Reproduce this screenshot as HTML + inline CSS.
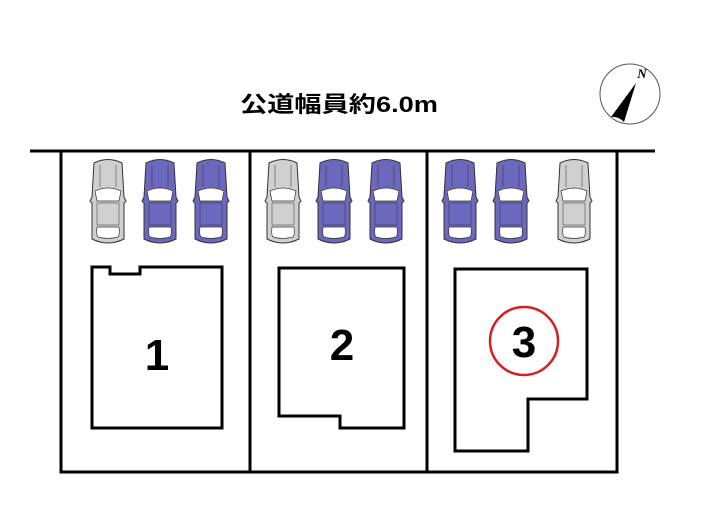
<!DOCTYPE html>
<html><head><meta charset="utf-8"><style>
html,body{margin:0;padding:0;background:#fff;width:705px;height:525px;overflow:hidden}
</style></head><body>
<svg width="705" height="525" viewBox="0 0 705 525" xmlns="http://www.w3.org/2000/svg">
<defs>
<g id="car">
  <path d="M6,6 Q20,-1 34,6 L36,40 L38,44 L36,46 L36,82 Q20,90 4,82 L4,46 L2,44 L4,40 Z" stroke="#333" stroke-width="1"/>
  <path d="M7,34 Q20,28 33,34 L31,44 L9,44 Z" fill="#fff" stroke="#333" stroke-width="0.7"/>
  <path d="M9,70 L31,70 Q32,78 30,80 Q20,83 10,80 Q8,78 9,70 Z" fill="#fff" stroke="#333" stroke-width="0.7"/>
  <path d="M9,46 L31,46 L31,68 L9,68 Z" fill="none" stroke="#333" stroke-width="0.5"/>
  <line x1="12" y1="8" x2="12" y2="30" stroke="#333" stroke-width="0.5"/>
  <line x1="28" y1="8" x2="28" y2="30" stroke="#333" stroke-width="0.5"/>
</g>
</defs>
<text x="339" y="112" text-anchor="middle" font-family="'Liberation Sans','Noto Sans CJK JP',sans-serif" font-weight="bold" font-size="22" textLength="198" lengthAdjust="spacingAndGlyphs" fill="#000">公道幅員約6.0m</text>
<circle cx="630" cy="94" r="30" fill="#fff" stroke="#555" stroke-width="1"/>
<text x="642" y="78" font-family="'Liberation Serif',serif" font-style="italic" font-weight="bold" font-size="13" text-anchor="middle">N</text>
<path d="M636,83 L611,117 Q618,116 624,122 Z" fill="#000"/>
<g fill="none" stroke="#000" stroke-width="3">
  <line x1="30" y1="151" x2="655" y2="151"/>
  <polyline points="61,151 61,472 617,472 617,151"/>
  <line x1="250" y1="151" x2="250" y2="472"/>
  <line x1="427" y1="151" x2="427" y2="472"/>
  <polygon points="92,267 110,267 110,274 140,274 140,267 222,267 222,428 92,428"/>
  <polygon points="279,268 404,268 404,428 340,428 340,416 279,416"/>
  <polygon points="455,269 587,269 587,399 528,399 528,451 455,451"/>
</g>
<g>
  <use href="#car" x="88" y="157" fill="#d0d0d0"/>
  <use href="#car" x="140" y="157" fill="#6c68bd"/>
  <use href="#car" x="191" y="157" fill="#6c68bd"/>
  <use href="#car" x="263" y="157" fill="#d0d0d0"/>
  <use href="#car" x="314" y="157" fill="#6c68bd"/>
  <use href="#car" x="366" y="157" fill="#6c68bd"/>
  <use href="#car" x="440" y="157" fill="#6c68bd"/>
  <use href="#car" x="491" y="157" fill="#6c68bd"/>
  <use href="#car" x="554" y="157" fill="#d0d0d0"/>
</g>
<g font-family="'Liberation Sans',sans-serif" font-weight="bold" font-size="44" text-anchor="middle" fill="#000">
  <text x="157" y="370">1</text>
  <text x="342" y="360">2</text>
  <text x="524" y="357">3</text>
</g>
<circle cx="524" cy="341" r="34" fill="none" stroke="#d42020" stroke-width="2.5"/>
</svg>
</body></html>
